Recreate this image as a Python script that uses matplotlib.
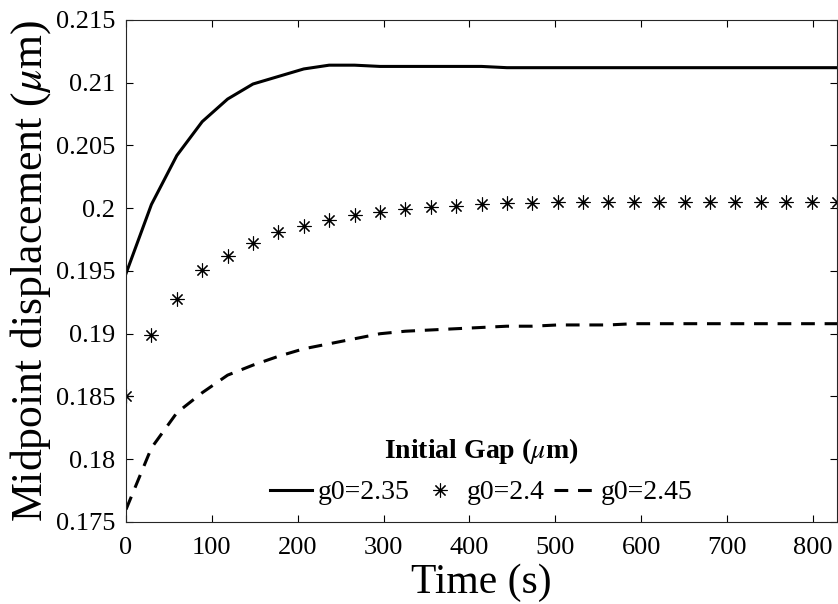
import matplotlib
matplotlib.use("Agg")
import matplotlib.pyplot as plt
import numpy as np

plt.rcParams['font.family'] = ['Liberation Serif', 'DejaVu Serif']
plt.rcParams['mathtext.fontset'] = 'stix'

# time samples (s), 29 points from 0 to 828
n_points = 29
t_end = 828
time = np.linspace(0, t_end, n_points)

# midpoint displacement (um) for each initial gap
g235 = [0.1948, 0.2003, 0.2042, 0.2069, 0.2087, 0.2099, 0.2105, 0.2111,
        0.2114, 0.2114, 0.2113, 0.2113, 0.2113, 0.2113, 0.2113, 0.2112,
        0.2112, 0.2112, 0.2112, 0.2112, 0.2112, 0.2112, 0.2112, 0.2112,
        0.2112, 0.2112, 0.2112, 0.2112, 0.2112]
g240 = [0.1850, 0.1899, 0.1928, 0.1951, 0.1962, 0.1972, 0.1981, 0.1986,
        0.1991, 0.1995, 0.1997, 0.1999, 0.2001, 0.2002, 0.2003, 0.2004,
        0.2004, 0.2005, 0.2005, 0.2005, 0.2005, 0.2005, 0.2005, 0.2005,
        0.2005, 0.2005, 0.2005, 0.2005, 0.2005]
g245 = [0.1760, 0.1809, 0.1837, 0.1853, 0.1867, 0.1875, 0.1882, 0.1888,
        0.1892, 0.1896, 0.1900, 0.1902, 0.1903, 0.1904, 0.1905, 0.1906,
        0.1906, 0.1907, 0.1907, 0.1907, 0.1908, 0.1908, 0.1908, 0.1908,
        0.1908, 0.1908, 0.1908, 0.1908, 0.1908]

labels = ['g0=2.35', 'g0=2.4', 'g0=2.45']
xticks = [0, 100, 200, 300, 400, 500, 600, 700, 800]
yticks = [0.175, 0.18, 0.185, 0.19, 0.195, 0.2, 0.205, 0.21, 0.215]
ytick_labels = ['0.175', '0.18', '0.185', '0.19', '0.195', '0.2', '0.205', '0.21', '0.215']

fig = plt.figure(figsize=(8.38, 6.04), dpi=100)
ax = fig.add_axes([0.1504, 0.1358, 0.8484, 0.8311])

ax.plot(time, g235, color='black', lw=2.2, label=labels[0])
ax.plot(time, g240, linestyle='none', marker=(8, 2, 0), markersize=10,
        markeredgewidth=0.8, color='black', label=labels[1])
ax.plot(time, g245, color='black', lw=2.2, linestyle=(0, (4.5, 3.2)), label=labels[2])

ax.set_xlim(0, t_end)
ax.set_ylim(0.175, 0.215)
ax.set_xticks(xticks)
ax.set_yticks(yticks)
ax.set_yticklabels(ytick_labels)
ax.tick_params(direction='in', top=True, right=True, length=5, width=0.8,
               labelsize=19)
ax.tick_params(axis='x', pad=11)
ax.tick_params(axis='y', pad=8)
for s in ax.spines.values():
    s.set_linewidth(0.8)
    s.set_color('#262626')

ax.set_xlabel('Time (s)', fontsize=30, labelpad=3)
ax.set_ylabel(r'Midpoint displacement ($\mu$m)', fontsize=31.5, labelpad=2)

leg = ax.legend(loc='lower center', bbox_to_anchor=(0.5, 0.0), ncol=3,
                frameon=False, fontsize=20, handlelength=1.5, handletextpad=0.2,
                columnspacing=0.35, numpoints=1, borderaxespad=0.2,
                title=r'Initial Gap ($\mu$m)',
                title_fontproperties={'weight': 'bold', 'size': 20})

fig.savefig('out.png', dpi=100)
